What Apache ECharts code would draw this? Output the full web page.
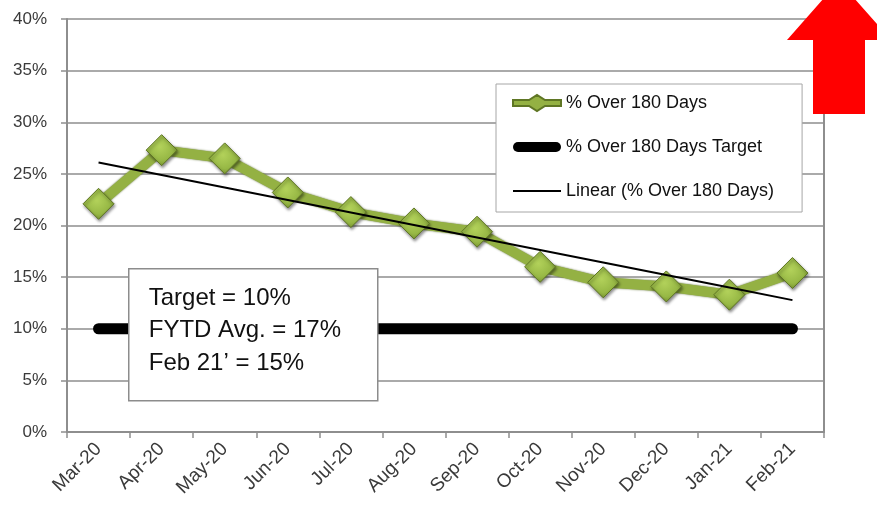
<!DOCTYPE html>
<html>
<head>
<meta charset="utf-8">
<script src="https://cdn.jsdelivr.net/npm/echarts@6/dist/echarts.min.js"></script>
<style>
  html, body { margin: 0; padding: 0; background: #fff; }
  #chart { width: 877px; height: 505px; }
</style>
</head>
<body>
<div id="chart"></div>
<script>
// Monthly share of receivables over 180 days (%)
const categories = ['Mar-20', 'Apr-20', 'May-20', 'Jun-20', 'Jul-20', 'Aug-20',
                    'Sep-20', 'Oct-20', 'Nov-20', 'Dec-20', 'Jan-21', 'Feb-21'];
const over180 = [22.1, 27.3, 26.5, 23.2, 21.3, 20.2, 19.4, 16.0, 14.5, 14.1, 13.3, 15.4];
const targetValue = 10;
const target = categories.map(() => targetValue);
const seriesNames = ['% Over 180 Days', '% Over 180 Days Target', 'Linear (% Over 180 Days)'];
const noteLines = ['Target = 10%', 'FYTD Avg. = 17%', 'Feb 21\u2019 = 15%'];
const yMin = 0, yMax = 40, yStep = 5;

// Least-squares linear trend of the monthly series
function linearTrend(values) {
  const n = values.length;
  const mx = (n - 1) / 2;
  const my = values.reduce((a, b) => a + b, 0) / n;
  let sxy = 0, sxx = 0;
  values.forEach((v, i) => { sxy += (i - mx) * (v - my); sxx += (i - mx) * (i - mx); });
  const slope = sxy / sxx;
  return values.map((_, i) => +(my + slope * (i - mx)).toFixed(3));
}
const trend = linearTrend(over180);

const FONT = 'Liberation Sans, Arial, sans-serif';
const gridColor = '#8e8e8e';
const green = '#94b143';

// Legend glyphs: thick line with diamond, thick rounded bar, thin line
const iconGreen = 'path://M0,5L16,5L24,0L32,5L48,5L48,11L32,11L24,16L16,11L0,11Z';
const iconTarget = 'path://M5,0L43,0A5,5,0,0,1,43,10L5,10A5,5,0,0,1,5,0Z';
const iconTrend = 'path://M0,0L48,0L48,2L0,2Z';

const chart = echarts.init(document.getElementById('chart'));
chart.setOption({
  animation: false,
  backgroundColor: '#ffffff',
  textStyle: { fontFamily: FONT },
  grid: { left: 67, right: 53, top: 19, bottom: 73, containLabel: false },
  legend: {
    data: [
      { name: seriesNames[0], icon: iconGreen, itemStyle: { color: green } },
      { name: seriesNames[1], icon: iconTarget, itemStyle: { color: '#000' } },
      { name: seriesNames[2], icon: iconTrend, itemStyle: { color: '#000' } }
    ],
    orient: 'vertical',
    left: 496, top: 84,
    padding: [10, 28, 12, 16],
    itemGap: 26,
    itemWidth: 48, itemHeight: 16,
    symbolKeepAspect: true,
    backgroundColor: '#ffffff',
    borderColor: '#a6a6a6', borderWidth: 1,
    textStyle: { fontFamily: FONT, fontSize: 18, color: '#111' }
  },
  xAxis: {
    type: 'category',
    data: categories,
    boundaryGap: true,
    axisLine: { lineStyle: { color: gridColor, width: 2 } },
    axisTick: { show: true, interval: 0, length: 6, lineStyle: { color: gridColor, width: 1.5 } },
    axisLabel: { interval: 0, rotate: 45, fontSize: 19, color: '#3a3a3a', margin: 14, fontFamily: FONT },
    splitLine: { show: false }
  },
  yAxis: [{
    type: 'value',
    min: yMin, max: yMax, interval: yStep,
    axisLine: { show: true, lineStyle: { color: gridColor, width: 2 } },
    axisTick: { show: true, length: 6, lineStyle: { color: gridColor, width: 1.5 } },
    axisLabel: { formatter: '{value}%', fontSize: 17, color: '#3a3a3a', margin: 20, fontFamily: FONT },
    splitLine: { show: true, lineStyle: { color: gridColor, width: 1.5 } }
  }, {
    type: 'value',
    position: 'right',
    min: yMin, max: yMax, interval: yStep,
    axisLine: { show: true, lineStyle: { color: gridColor, width: 2 } },
    axisTick: { show: false },
    axisLabel: { show: false },
    splitLine: { show: false }
  }],
  series: [
    {
      name: seriesNames[1],
      type: 'line',
      data: target,
      symbol: 'none',
      z: 2,
      lineStyle: { color: '#000000', width: 11, cap: 'round' },
      itemStyle: { color: '#000000' }
    },
    {
      name: seriesNames[0],
      type: 'line',
      data: over180,
      symbol: 'diamond',
      symbolSize: 31,
      z: 3,
      lineStyle: {
        color: green, width: 10,
        shadowColor: 'rgba(70,90,20,0.9)', shadowBlur: 2
      },
      itemStyle: {
        color: new echarts.graphic.RadialGradient(0.45, 0.4, 0.7, [
          { offset: 0, color: '#b2d15a' },
          { offset: 0.6, color: '#97b845' },
          { offset: 1, color: '#6f8a2b' }
        ]),
        borderColor: '#5f7624', borderWidth: 1,
        shadowColor: 'rgba(0,0,0,0.45)', shadowBlur: 3, shadowOffsetX: 1, shadowOffsetY: 2
      }
    },
    {
      name: seriesNames[2],
      type: 'line',
      data: trend,
      symbol: 'none',
      z: 4,
      lineStyle: { color: '#000000', width: 2 },
      itemStyle: { color: '#000000' }
    }
  ],
  graphic: [
    {
      type: 'group',
      left: 128, top: 268,
      z: 100,
      children: [
        {
          type: 'rect',
          z: 100,
          shape: { x: 0, y: 0, width: 249, height: 132 },
          style: { fill: '#ffffff', stroke: '#8c8c8c', lineWidth: 1.5 }
        },
        {
          type: 'text',
          z: 101,
          x: 20, y: 13,
          style: {
            text: noteLines.join('\n'),
            font: '24px ' + FONT,
            lineHeight: 32.5,
            fill: '#111111'
          }
        }
      ]
    },
    {
      type: 'polygon',
      z: 100,
      shape: {
        points: [[787, 40], [839, -19], [891, 40], [865, 40], [865, 114], [813, 114], [813, 40]]
      },
      style: { fill: '#ff0000' }
    }
  ]
});
</script>
</body>
</html>
